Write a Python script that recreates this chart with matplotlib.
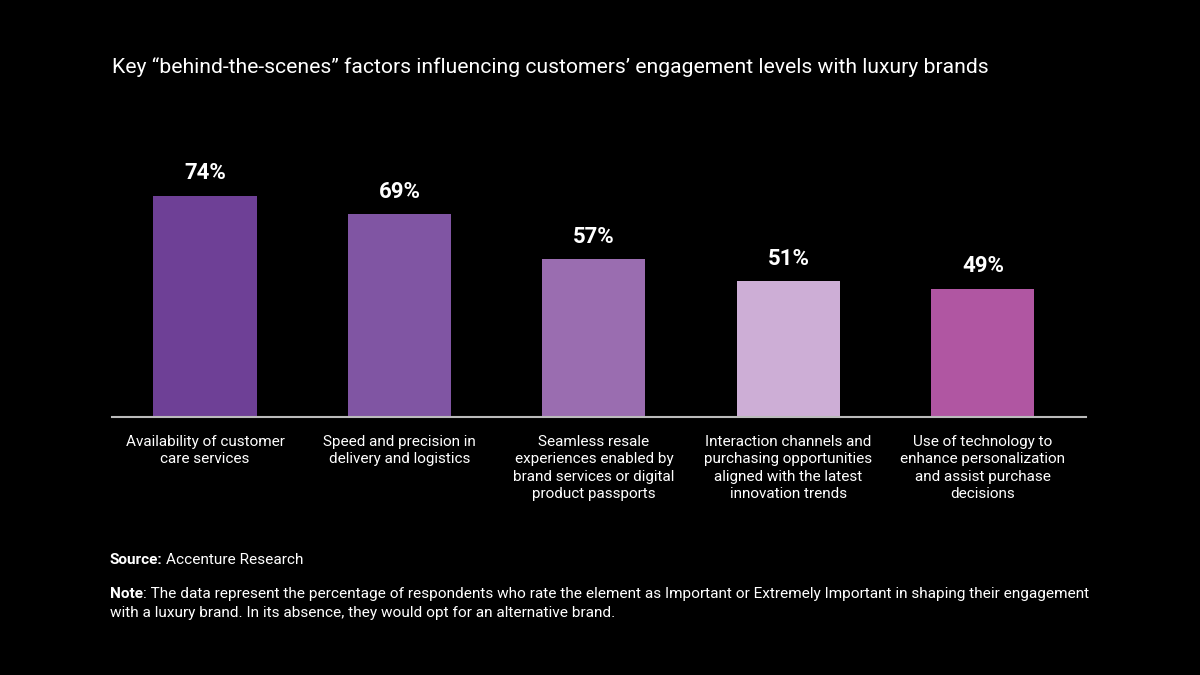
import matplotlib
matplotlib.use("Agg")
import matplotlib.pyplot as plt

categories = [
    "Availability of customer\ncare services",
    "Speed and precision in\ndelivery and logistics",
    "Seamless resale\nexperiences enabled by\nbrand services or digital\nproduct passports",
    "Interaction channels and\npurchasing opportunities\naligned with the latest\ninnovation trends",
    "Use of technology to\nenhance personalization\nand assist purchase\ndecisions",
]
values = [74, 69, 57, 51, 49]
colors = ["#6e4096", "#8055a3", "#9a6db0", "#cdaed6", "#b056a2"]

title = "Key \u201cbehind-the-scenes\u201d factors influencing customers\u2019 engagement levels with luxury brands"

plt.rcParams['font.family'] = ['Roboto', 'DejaVu Sans']

fig = plt.figure(figsize=(12, 6.75), dpi=100, facecolor="black")
W, H = 1200, 675
left, right, top, bottom = 112, 1086, 173.3, 417
ax = fig.add_axes([left / W, 1 - bottom / H, (right - left) / W, (bottom - top) / H])
ax.set_facecolor("black")

x = list(range(len(values)))
ax.bar(x, values, width=0.53, color=colors, bottom=0)
ax.set_ylim(14.5, 80)
ax.set_xlim(-0.478, 4.53)

for xi, v in zip(x, values):
    ax.text(xi, v + 3.0, f"{v}%", ha="center", va="bottom", color="white",
            fontsize=16, fontweight="bold")

for s in ["top", "right", "left"]:
    ax.spines[s].set_visible(False)
ax.spines["bottom"].set_color("#bbbbbb")
ax.spines["bottom"].set_linewidth(1.5)
ax.set_yticks([])
ax.set_xticks(x)
ax.set_xticklabels(categories, color="white", fontsize=11, linespacing=1.3)
ax.tick_params(axis="x", length=0, pad=13)

fig.text(112 / W, 1 - 67 / H, title, color="white", fontsize=15.2, va="center", ha="left")

renderer = fig.canvas.get_renderer()


def bold_lead(xpx, ypx, lead, rest, size, gap):
    t = fig.text(xpx / W, 1 - ypx / H, lead, color="white", fontsize=size,
                 fontweight="bold", va="baseline", ha="left")
    bb = t.get_window_extent(renderer=renderer)
    fig.text((bb.x1 + gap) / W, 1 - ypx / H, rest, color="white", fontsize=size,
             va="baseline", ha="left")


bold_lead(110, 564, "Source:", "Accenture Research", 11.1, 3)
bold_lead(110, 598, "Note", ": The data represent the percentage of respondents who rate the element as Important or Extremely Important in shaping their engagement", 11.1, 0)
fig.text(110 / W, 1 - 617 / H,
         "with a luxury brand. In its absence, they would opt for an alternative brand.",
         color="white", fontsize=11.1, va="baseline", ha="left")

fig.savefig("out.png", dpi=100, facecolor="black")
